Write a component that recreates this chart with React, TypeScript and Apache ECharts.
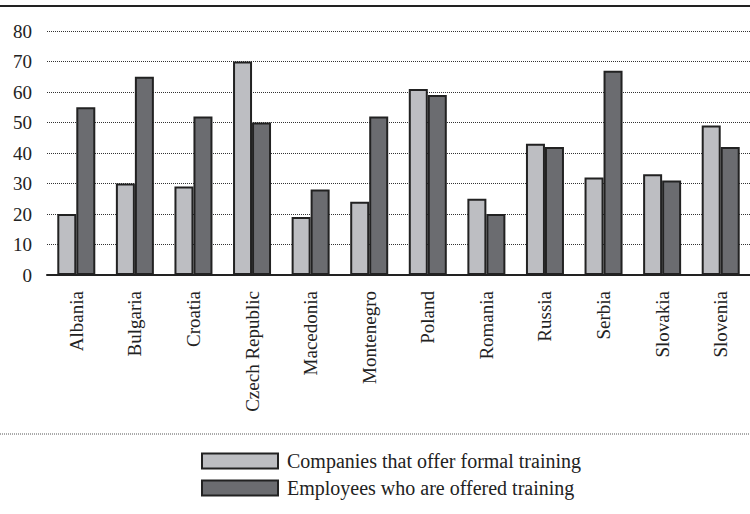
import React, { useEffect, useRef } from "react";
import * as echarts from "echarts";

const categories = [
  "Albania", "Bulgaria", "Croatia", "Czech Republic", "Macedonia", "Montenegro",
  "Poland", "Romania", "Russia", "Serbia", "Slovakia", "Slovenia",
];
const companies = [20, 30, 29, 70, 19, 24, 61, 25, 43, 32, 33, 49];
const employees = [55, 65, 52, 50, 28, 52, 59, 20, 42, 67, 31, 42];
const seriesNames = ["Companies that offer formal training", "Employees who are offered training"];
const yTicks = { min: 0, max: 80, interval: 10 };

const FONT = "'Liberation Serif', 'DejaVu Serif', serif";

export default function App() {
  const ref = useRef<HTMLDivElement>(null);
  useEffect(() => {
    document.body.style.margin = "0";
    const chart = echarts.init(ref.current!, null, { renderer: "svg" });
    chart.setOption({
      animation: false,
      backgroundColor: "#ffffff",
      grid: { left: 47, top: 31, width: 710, height: 244 },
      xAxis: {
        type: "category",
        data: categories,
        axisLine: { show: true, lineStyle: { color: "#222", width: 2 } },
        axisTick: { show: false },
        axisLabel: {
          rotate: 90,
          margin: 16,
          fontFamily: FONT,
          fontSize: 19,
          color: "#222",
        },
      },
      yAxis: {
        type: "value",
        min: yTicks.min,
        max: yTicks.max,
        interval: yTicks.interval,
        axisLine: { show: false },
        axisTick: { show: false },
        axisLabel: { margin: 15, fontFamily: FONT, fontSize: 19, color: "#222" },
        splitLine: { lineStyle: { type: "dotted", color: "#333", width: 1 } },
      },
      legend: {
        orient: "vertical",
        left: 196,
        top: 446,
        itemWidth: 76,
        itemHeight: 15,
        itemGap: 7,
        icon: "rect",
        textStyle: { fontFamily: FONT, fontSize: 20, color: "#222", padding: [0, 0, 0, 4] },
        data: seriesNames,
      },
      graphic: [
        {
          type: "line",
          shape: { x1: 0, y1: 6, x2: 750, y2: 6 },
          style: { stroke: "#222", lineWidth: 2 },
        },
        {
          type: "line",
          shape: { x1: 0, y1: 434, x2: 750, y2: 434 },
          style: { stroke: "#555", lineWidth: 1, lineDash: [1, 1] },
        },
      ],
      series: [
        {
          name: seriesNames[0],
          type: "bar",
          data: companies,
          barWidth: 19,
          barGap: "0%",
          itemStyle: { color: "#bdbec2", borderColor: "#222", borderWidth: 2 },
        },
        {
          name: seriesNames[1],
          type: "bar",
          data: employees,
          barWidth: 19,
          barGap: "0%",
          itemStyle: { color: "#6b6c70", borderColor: "#222", borderWidth: 2 },
        },
      ],
    });
    return () => chart.dispose();
  }, []);
  return <div ref={ref} style={{ width: 750, height: 514 }} />;
}
